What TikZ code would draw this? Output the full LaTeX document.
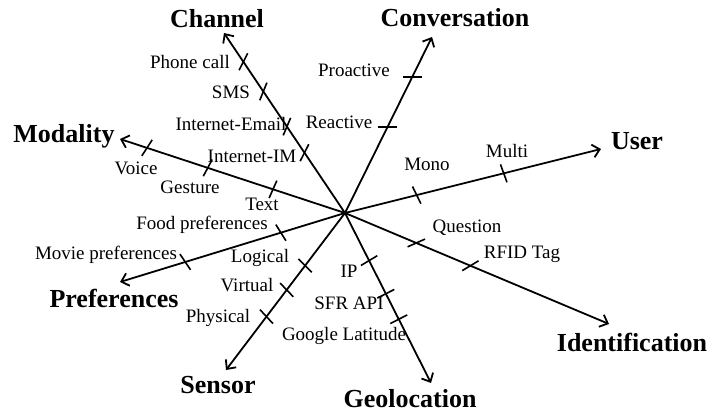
\documentclass[tikz,border=0pt]{standalone}
\usepackage{fontspec}
\setmainfont{Liberation Serif}
\usetikzlibrary{arrows.meta,calc,positioning}

\begin{document}
\begin{tikzpicture}
[x=1pt, y=1pt,
% STYLES
% The axis style is used to draw each dimension of the context
axis/.style={line width=1.8pt, -{Straight Barb[length=7pt, width=13pt]}},
% The tick style marks one value on an axis
tick/.style={line width=1.6pt},
% The dimension style is used to write the axes' names
dimension/.style={inner sep=0pt, anchor=base, font=\bfseries\fontsize{26}{30}\selectfont},
% The value style is used to write the values of each dimension
value/.style={inner sep=0pt, anchor=base, font=\fontsize{19}{22}\selectfont}]

\useasboundingbox (0,0) rectangle (711,412);

% Center and ends of the axes
\coordinate (o) at (345,199);
\coordinate (channel-end) at (224,379);
\coordinate (conversation-end) at (432,375);
\coordinate (user-end) at (601,263);
\coordinate (modality-end) at (120,273);
\coordinate (preferences-end) at (120,130);
\coordinate (sensor-end) at (226,42);
\coordinate (geolocation-end) at (431,29);
\coordinate (identification-end) at (609,88);

% Draw dimensions
\node [dimension] (channel) at (217,384) {Channel};
\node [dimension] (conversation) at (455,385) {Conversation};
\node [dimension] (user) at (637,262) {User};
\node [dimension] (modality) at (64,269) {Modality};
\node [dimension] (preferences) at (114,104) {Preferences};
\node [dimension] (sensor) at (218,19) {Sensor};
\node [dimension] (geolocation) at (410,5) {Geolocation};
\node [dimension] (identification) at (632,60) {Identification};

% CHANNEL
\node [value] (phonecall) at (190,343) {Phone call};
\node [value] (sms) at (231,313) {SMS};
\node [value] (email) at (231,281) {Internet-Email};
\node [value] (im) at (252,249) {Internet-IM};
% CONVERSATION
\node [value] (proactive) at (354,335) {Proactive};
\node [value] (reactive) at (339,283) {Reactive};
% USER
\node [value] (mono) at (427,241) {Mono};
\node [value] (multi) at (507,254) {Multi};
% MODALITY
\node [value] (voice) at (136,237) {Voice};
\node [value] (gesture) at (190,218) {Gesture};
\node [value] (text) at (262,201) {Text};
% PREFERENCES
\node [value] (food) at (202,182) {Food preferences};
\node [value] (movie) at (106,152) {Movie preferences};
% SENSOR
\node [value] (logical) at (260,149) {Logical};
\node [value] (virtual) at (247,120) {Virtual};
\node [value] (physical) at (218,89) {Physical};
% GEOLOCATION
\node [value] (ip) at (349,134) {IP};
\node [value] (sfrapi) at (349,102) {SFR API};
\node [value] (latitude) at (344,71) {Google Latitude};
% IDENTIFICATION
\node [value] (question) at (467,179) {Question};
\node [value] (rfid) at (522,153) {RFID Tag};

% Draw the axes
\foreach \e in {channel,conversation,user,modality,preferences,sensor,geolocation,identification}
    \draw[axis] (o) -- (\e-end);

% Draw the ticks: axis/position/angle
\foreach \e/\f/\a in {channel/0.84/63, channel/0.675/68, channel/0.48/67, channel/0.335/63,
    conversation/0.773/0, conversation/0.489/0,
    user/0.28/-64, user/0.62/-70,
    modality/0.88/57, modality/0.61/62, modality/0.32/66,
    preferences/0.285/-58, preferences/0.71/-56,
    sensor/0.335/-45, sensor/0.49/-46, sensor/0.66/-47,
    geolocation/0.28/31, geolocation/0.475/27, geolocation/0.625/27,
    identification/0.27/24, identification/0.475/31}
    \draw[tick] ($(o)!\f!(\e-end)$) +(\a:9.5) -- +(\a+180:9.5);

\end{tikzpicture}
\end{document}
